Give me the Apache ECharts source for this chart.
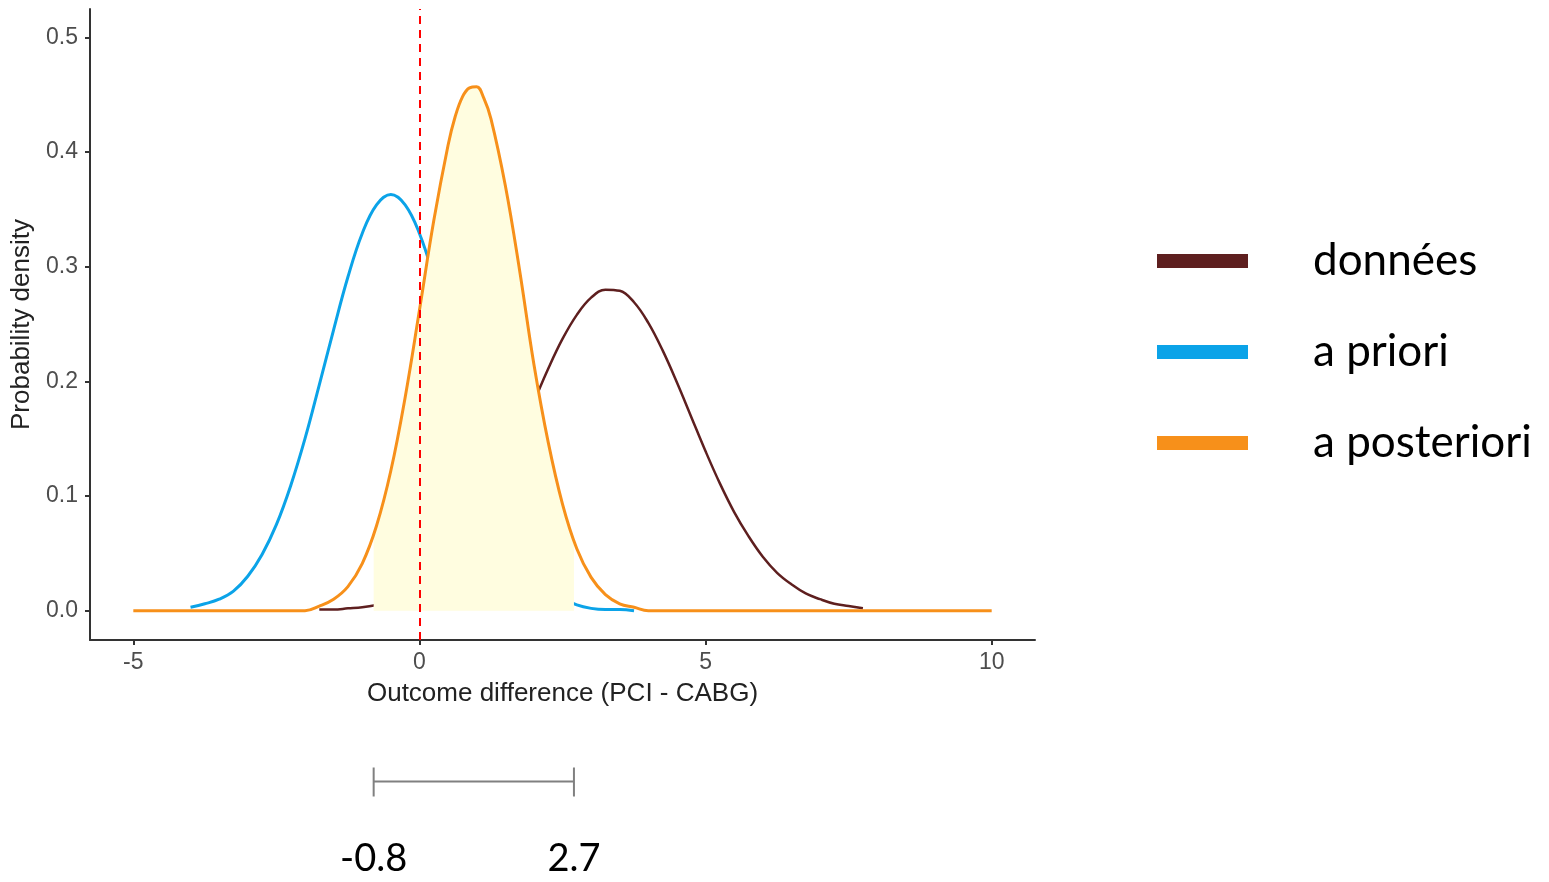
<!DOCTYPE html>
<html>
<head>
<meta charset="utf-8">
<title>Outcome difference</title>
<script src="https://cdn.jsdelivr.net/npm/echarts@6/dist/echarts.min.js"></script>
<style>
  html, body { margin: 0; padding: 0; background: #fff; }
  #chart { width: 1549px; height: 882px; }
</style>
</head>
<body>
<div id="chart"></div>
<script>
// series names (legend order)
var names = ['données', 'a priori', 'a posteriori'];
var colors = ['#5e1f1f', '#0ba3e8', '#f7901a'];

// a priori (blue)
var priorX = [-4, -3.75, -3.5, -3.25, -3, -2.75, -2.5, -2.25, -2, -1.75, -1.5, -1.25, -1, -0.75, -0.5, -0.25,
  0, 0.25, 0.5, 0.75, 1, 1.25, 1.5, 1.75, 2, 2.25, 2.5, 2.75, 3, 3.25, 3.5, 3.75];
var priorY = [0.003, 0.006, 0.010, 0.017, 0.030, 0.049, 0.075, 0.109, 0.150, 0.197, 0.245, 0.291, 0.329, 0.354, 0.363, 0.354,
  0.329, 0.291, 0.245, 0.197, 0.150, 0.109, 0.076, 0.050, 0.031, 0.019, 0.011, 0.005, 0.002, 0.001, 0.001, 0.0];

// données (brown)
var dataX = [-1.75, -1.5, -1.25, -1, -0.75, -0.5, -0.25, 0, 0.25, 0.5, 0.75, 1, 1.25, 1.5, 1.75, 2, 2.25, 2.5, 2.75,
  3, 3.25, 3.5, 3.75, 4, 4.25, 4.5, 4.75, 5, 5.25, 5.5, 5.75, 6, 6.25, 6.5, 6.75, 7, 7.25, 7.5, 7.75];
var dataY = [0.001, 0.001, 0.002, 0.003, 0.005, 0.008, 0.012, 0.018, 0.027, 0.039, 0.054, 0.074, 0.097, 0.123, 0.152, 0.182, 0.211, 0.237, 0.258,
  0.273, 0.280, 0.279, 0.269, 0.251, 0.227, 0.199, 0.169, 0.139, 0.111, 0.086, 0.065, 0.047, 0.033, 0.023, 0.015, 0.010, 0.006, 0.004, 0.002];

// a posteriori (orange)
var postX = [-5, -2, -1.75, -1.5, -1.25, -1, -0.75, -0.5, -0.25, 0, 0.25, 0.5, 0.625, 0.75, 0.875, 1, 1.125, 1.25, 1.5, 1.75,
  2, 2.25, 2.5, 2.75, 3, 3.25, 3.5, 3.75, 4, 10];
var postY = [0, 0, 0.004, 0.010, 0.021, 0.041, 0.074, 0.122, 0.186, 0.262, 0.340, 0.406, 0.431, 0.448, 0.456, 0.457, 0.447, 0.429, 0.371, 0.297,
  0.215, 0.147, 0.093, 0.054, 0.029, 0.014, 0.006, 0.003, 0, 0];

// credible interval and posterior density at its bounds
var ciBounds = [-0.8, 2.7];
var ciDensity = [0.064, 0.060];

var xTicks = [-5, 0, 5, 10];
var yTicks = [0, 0.1, 0.2, 0.3, 0.4, 0.5];

function pairs(xs, ys) {
  return xs.map(function (x, i) { return [x, ys[i]]; });
}

// shaded area under the posterior between the interval bounds
var fillData = [[ciBounds[0], ciDensity[0]]];
postX.forEach(function (x, i) {
  if (x > ciBounds[0] && x < ciBounds[1]) fillData.push([x, postY[i]]);
});
fillData.push([ciBounds[1], ciDensity[1]]);

var axisFont = 'Liberation Sans, Arial, sans-serif';

var chart = echarts.init(document.getElementById('chart'));
var option = {
  animation: false,
  backgroundColor: '#fff',
  grid: [
    { left: 90, top: 9, width: 945, height: 631 },
    { left: 90, top: 767, width: 945, height: 29 }
  ],
  legend: {
    orient: 'vertical',
    left: 1157,
    top: 236,
    padding: 0,
    itemWidth: 91,
    itemHeight: 14,
    itemGap: 41,
    icon: 'rect',
    selectedMode: false,
    data: names,
    textStyle: { fontFamily: 'Lato', fontSize: 44, color: '#000', lineHeight: 50, padding: [0, 0, 0, 60] }
  },
  xAxis: [{
    type: 'value',
    gridIndex: 0,
    min: -5.757,
    max: 10.757,
    name: 'Outcome difference (PCI - CABG)',
    nameLocation: 'middle',
    nameGap: 41,
    nameTextStyle: { fontFamily: axisFont, fontSize: 26, color: '#222' },
    axisLine: { onZero: false, lineStyle: { color: '#333', width: 2 } },
    axisTick: { length: 5, lineStyle: { color: '#333', width: 2 }, customValues: xTicks },
    axisLabel: { customValues: xTicks, margin: 11, fontFamily: axisFont, fontSize: 23, color: '#4d4d4d',
      formatter: function (v) { return String(v); } },
    splitLine: { show: false }
  }, {
    type: 'value',
    gridIndex: 1,
    min: -5.757,
    max: 10.757,
    show: false
  }],
  yAxis: [{
    type: 'value',
    gridIndex: 0,
    min: -0.0256,
    max: 0.5248,
    name: 'Probability density',
    nameLocation: 'middle',
    nameGap: 49,
    nameTextStyle: { fontFamily: axisFont, fontSize: 26, color: '#222' },
    axisLine: { show: true, onZero: false, lineStyle: { color: '#333', width: 2 } },
    axisTick: { show: true, length: 5, lineStyle: { color: '#333', width: 2 }, customValues: yTicks },
    axisLabel: { customValues: yTicks, margin: 12, fontFamily: axisFont, fontSize: 23, color: '#4d4d4d',
      formatter: function (v) { return v.toFixed(1); } },
    splitLine: { show: false }
  }, {
    type: 'value',
    gridIndex: 1,
    min: 0,
    max: 1,
    show: false
  }],
  series: [
    {
      name: names[1], type: 'line', z: 2, data: pairs(priorX, priorY), showSymbol: false, symbol: 'none',
      smooth: 0.4, itemStyle: { color: colors[1] }, lineStyle: { color: colors[1], width: 3 }
    },
    {
      name: names[0], type: 'line', z: 2, data: pairs(dataX, dataY), showSymbol: false, symbol: 'none',
      smooth: 0.4, itemStyle: { color: colors[0] }, lineStyle: { color: colors[0], width: 2.5 }
    },
    {
      name: 'interval', type: 'line', z: 3, data: fillData, showSymbol: false, symbol: 'none',
      smooth: 0.4, lineStyle: { width: 0 }, itemStyle: { color: '#fffde0' },
      areaStyle: { color: '#fffde0', opacity: 1 }
    },
    {
      name: names[2], type: 'line', z: 4, data: pairs(postX, postY), showSymbol: false, symbol: 'none',
      smooth: 0.4, itemStyle: { color: colors[2] }, lineStyle: { color: colors[2], width: 3 },
      markLine: {
        silent: true, symbol: 'none', label: { show: false },
        lineStyle: { color: '#ff0000', width: 2, type: [8, 6] },
        data: [{ xAxis: 0 }]
      }
    },
    {
      name: 'bracket', type: 'custom', xAxisIndex: 1, yAxisIndex: 1,
      data: [ciBounds],
      encode: { x: [0, 1] },
      renderItem: function (params, api) {
        var a = api.coord([api.value(0), 0.5]);
        var b = api.coord([api.value(1), 0.5]);
        var st = { stroke: '#808080', lineWidth: 2 };
        var txt = function (p, s) {
          return { type: 'text', style: { text: s, x: p[0], y: p[1] + 77, align: 'center', verticalAlign: 'middle',
            font: '38px Lato', fill: '#000' } };
        };
        return {
          type: 'group',
          children: [
            { type: 'line', shape: { x1: a[0], y1: a[1], x2: b[0], y2: b[1] }, style: st },
            { type: 'line', shape: { x1: a[0], y1: a[1] - 14, x2: a[0], y2: a[1] + 15 }, style: st },
            { type: 'line', shape: { x1: b[0], y1: b[1] - 14, x2: b[0], y2: b[1] + 15 }, style: st },
            txt(a, String(api.value(0))),
            txt(b, String(api.value(1)))
          ]
        };
      }
    }
  ]
};
chart.setOption(option);
window.onresize = function () { chart.resize(); };
</script>
</body>
</html>
